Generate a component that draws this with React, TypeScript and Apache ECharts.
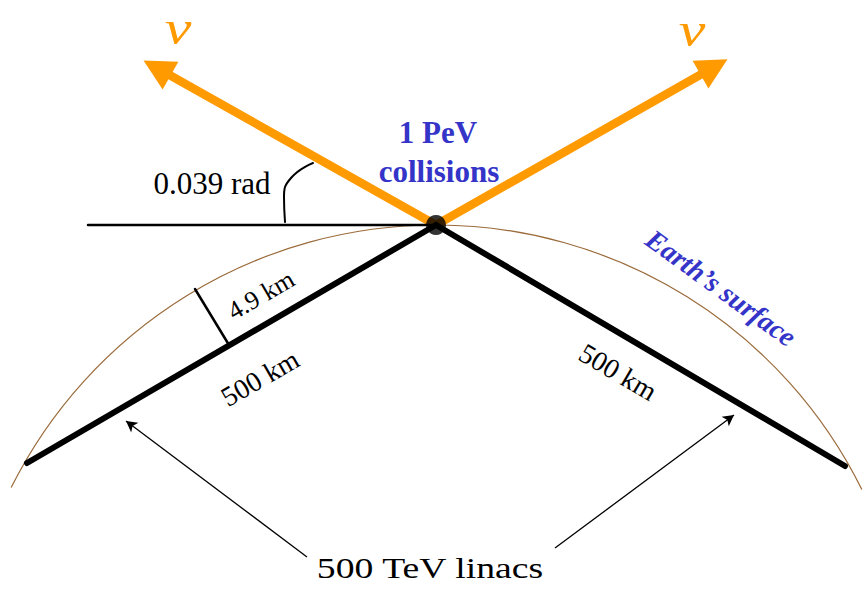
import React, { useEffect, useRef } from "react";
import * as echarts from "echarts";

// ---- geometry of the diagram (in picture units: x → right, y → down) ----
const canvasX = [0, 865];
const canvasY = [0, 590];
const collision = [436, 225];
const horizon = [[88, 225], [436, 225]];
const linacLeft = [[27, 463], [436, 225]];
const linacRight = [[436, 225], [845, 466]];
const depthMarker = [[195, 289], [229, 345]];
const angleMarker = [[285, 222], [284, 197], [291, 178], [313, 163]];
const neutrinoLeft = [[436, 225], [157, 68]];
const neutrinoRight = [[436, 225], [714, 67]];
const pointerLeft = [[307, 557], [126, 421]];
const pointerRight = [[555, 548], [734, 415]];
const earthCenter = [436, 700];
const earthRadius = 475;
const earthSpan = [-2.678, -0.459];

// ---- texts ----
const nuText = "\u03BD";
const collisionText = ["1 PeV", "collisions"];
const angleText = "0.039 rad";
const depthText = "4.9 km";
const lengthText = "500 km";
const surfaceText = "Earth\u2019s surface";
const linacText = "500 TeV linacs";

const SERIF = "'Liberation Serif', 'Times New Roman', Times, serif";
const ORANGE = "#FF9A00";
const BLUE = "#3434C8";
const BROWN = "#9A6A3A";

export default function App() {
  const ref = useRef<HTMLDivElement>(null);

  useEffect(() => {
    if (!ref.current) return;
    const chart = echarts.init(ref.current, undefined, { renderer: "svg" });

    const seg = (pts: number[][], color: string, width: number, smooth = false) => ({
      type: "line",
      data: pts,
      smooth,
      symbol: "none",
      silent: true,
      z: 2,
      lineStyle: { color, width, cap: "round" },
    });

    const arrowSeries = (
      lines: number[][][],
      color: string,
      width: number,
      symbol: string,
      size: number[]
    ) => ({
      type: "line",
      data: [],
      symbol: "none",
      z: 2,
      markLine: {
        silent: true,
        z: 2,
        symbol: ["none", symbol],
        symbolSize: size,
        label: { show: false },
        itemStyle: { color },
        lineStyle: { color, width, type: "solid" },
        emphasis: { disabled: true },
        data: lines.map((l) => [{ coord: l[0] }, { coord: l[1] }]),
      },
    });

    chart.setOption({
      animation: false,
      backgroundColor: "#ffffff",
      grid: { left: 0, right: 0, top: 0, bottom: 0 },
      xAxis: { type: "value", min: canvasX[0], max: canvasX[1], show: false },
      yAxis: { type: "value", min: canvasY[0], max: canvasY[1], inverse: true, show: false },
      series: [
        seg(horizon, "#000", 2.5),
        seg(angleMarker, "#000", 2, true),
        seg(depthMarker, "#000", 2.5),
        seg(linacLeft, "#000", 6),
        seg(linacRight, "#000", 6),
        arrowSeries([pointerLeft, pointerRight], "#000", 1.3, "arrow", [9, 11]),
        arrowSeries([neutrinoLeft, neutrinoRight], ORANGE, 8.5, "triangle", [32, 31]),
        {
          type: "scatter",
          data: [collision],
          symbol: "circle",
          symbolSize: 20,
          silent: true,
          itemStyle: { color: "#000" },
          z: 20,
        },
      ],
    });

    const px = (p: number[]) => chart.convertToPixel({ gridIndex: 0 }, p) as number[];
    const c0 = px(earthCenter);
    const rPx = Math.abs(px([earthCenter[0] + earthRadius, earthCenter[1]])[0] - c0[0]);

    const txt = (
      text: string,
      at: number[],
      size: number,
      opts: { color?: string; weight?: string; style?: string; rot?: number; sx?: number } = {}
    ) => {
      const p = px(at);
      return {
        type: "text",
        x: p[0],
        y: p[1],
        rotation: ((opts.rot || 0) * Math.PI) / 180,
        scaleX: opts.sx || 1,
        z: 100,
        style: {
          text,
          fill: opts.color || "#000",
          font: `${opts.style || "normal"} ${opts.weight || "normal"} ${size}px ${SERIF}`,
          align: "center",
          verticalAlign: "middle",
        },
      };
    };

    chart.setOption({
      graphic: [
        {
          type: "arc",
          z: 0,
          shape: {
            cx: c0[0],
            cy: c0[1],
            r: rPx,
            startAngle: earthSpan[0],
            endAngle: earthSpan[1],
            clockwise: true,
          },
          style: { stroke: BROWN, lineWidth: 1.2, fill: null },
        },
        txt(nuText, [178, 28], 48, { color: ORANGE, style: "italic", sx: 1.25 }),
        txt(nuText, [692, 30], 48, { color: ORANGE, style: "italic", sx: 1.25 }),
        txt(collisionText[0], [438, 132], 31, { color: BLUE, weight: "bold" }),
        txt(collisionText[1], [439, 171], 31, { color: BLUE, weight: "bold" }),
        txt(angleText, [212, 183], 31),
        txt(depthText, [261, 295], 26, { rot: 30 }),
        txt(lengthText, [260, 378], 28, { rot: 30 }),
        txt(lengthText, [618, 372], 28, { rot: -30.5 }),
        txt(surfaceText, [721, 288], 28, { color: BLUE, weight: "bold", style: "italic", rot: -36 }),
        txt(linacText, [430, 568], 29, { sx: 1.3 }),
      ],
    });

    return () => chart.dispose();
  }, []);

  return (
    <div
      ref={ref}
      style={{ position: "fixed", left: 0, top: 0, width: 865, height: 590, background: "#fff" }}
    />
  );
}
